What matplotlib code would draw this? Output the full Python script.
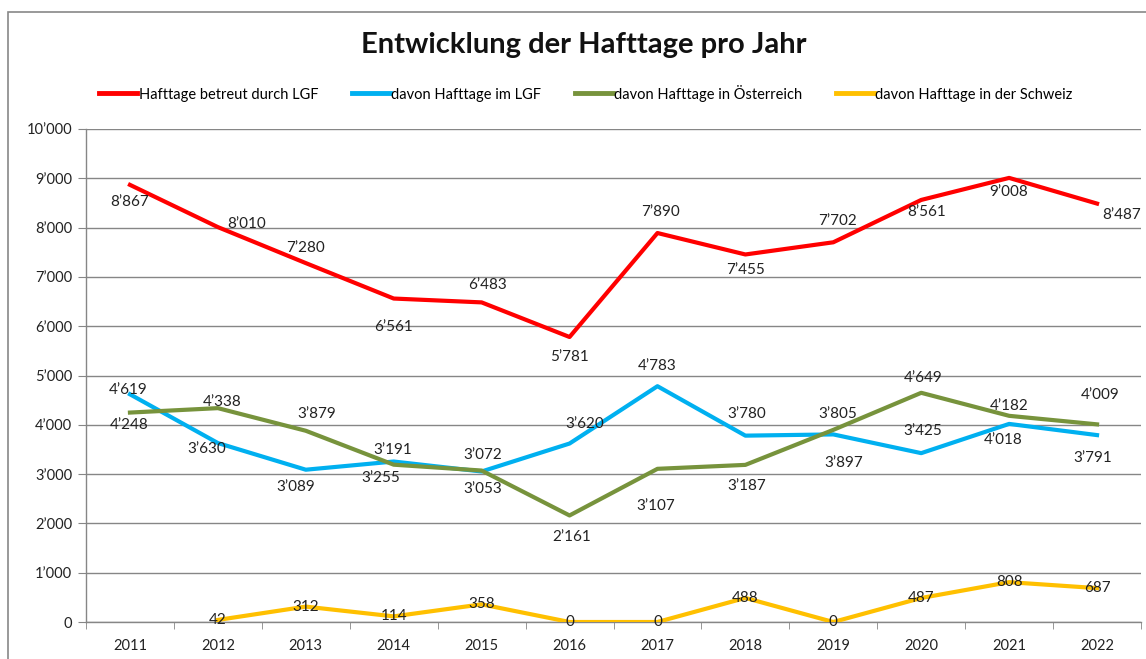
import matplotlib
matplotlib.use("Agg")
import matplotlib.pyplot as plt
from matplotlib.patches import Rectangle
from matplotlib.ticker import FuncFormatter
import numpy as np

plt.rcParams['font.family'] = ['Lato', 'DejaVu Sans']

# data
years = ["2011", "2012", "2013", "2014", "2015", "2016",
         "2017", "2018", "2019", "2020", "2021", "2022"]
betreut = [8867, 8010, 7280, 6561, 6483, 5781, 7890, 7455, 7702, 8561, 9008, 8487]
im_lgf = [4619, 3630, 3089, 3255, 3053, 3620, 4783, 3780, 3805, 3425, 4018, 3791]
oesterreich = [4248, 4338, 3879, 3191, 3072, 2161, 3107, 3187, 3897, 4649, 4182, 4009]
schweiz = [None, 42, 312, 114, 358, 0, 0, 488, 0, 487, 808, 687]

names = ["Hafttage betreut durch LGF", "davon Hafttage im LGF",
         "davon Hafttage in Österreich", "davon Hafttage in der Schweiz"]
colors = ["#FF0000", "#00B0F0", "#77933C", "#FFC000"]

# label offsets in pixels (dx right, dy down)
off_red = [(0, 17), (29, -3), (0, -15), (0, 28), (6, -17), (0, 20),
           (3, -21), (0, 16), (4, -21), (5, 12), (0, 14), (25, 11)]
off_blue = [(-2, -4), (-11, 6), (-10, 17), (-13, 16), (1, 18), (15, -20),
            (0, -20), (1, -22), (4, -20), (2, -22), (-6, 16), (-4, 23)]
off_green = [(-1, 12), (4, -6), (11, -17), (-1, -15), (1, -16), (2, 22),
             (-2, 37), (1, 21), (10, 33), (2, -15), (0, -10), (3, -29)]

W, H = 1146, 659
fig = plt.figure(figsize=(W / 100, H / 100), dpi=100)
ax = fig.add_axes([86 / W, 37 / H, (1141 - 86) / W, (622 - 129) / H])

x = np.arange(len(years))
series = [betreut, im_lgf, oesterreich, schweiz]
offsets = [off_red, off_blue, off_green, None]

def fmt(v):
    return f"{v:,.0f}".replace(",", "\u2019")

for vals, c, name, offs in zip(series, colors, names, offsets):
    y = np.array([np.nan if v is None else v for v in vals], dtype=float)
    ax.plot(x, y, color=c, lw=3, label=name, solid_joinstyle='round', zorder=3)
    for i, v in enumerate(vals):
        if v is None:
            continue
        dx, dy = (0, 0) if offs is None else offs[i]
        ax.annotate(fmt(v), (x[i], v), xytext=(dx, -dy), textcoords='offset pixels',
                    ha='center', va='center', fontsize=11, color='#222222', zorder=4)

ax.set_xlim(-0.5, len(years) - 0.5)
ax.set_ylim(0, 10000)
ax.set_yticks(np.arange(0, 10001, 1000))
ax.yaxis.set_major_formatter(FuncFormatter(lambda v, p: fmt(v)))
ax.set_xticks(x)
ax.set_xticklabels(years)
ax.set_xticks(np.arange(-0.5, len(years), 1), minor=True)
ax.tick_params(axis='x', which='major', length=0, pad=12, labelsize=10.5, colors='#222222')
ax.tick_params(axis='x', which='minor', length=5, color='#868686', direction='out')
ax.tick_params(axis='y', length=6, color='#868686', labelsize=10.5, labelcolor='#222222', pad=4)
ax.grid(axis='y', color='#868686', lw=1)
ax.set_axisbelow(True)
for s in ['top', 'right']:
    ax.spines[s].set_visible(False)
for s in ['left', 'bottom']:
    ax.spines[s].set_color('#868686')
    ax.spines[s].set_linewidth(1)

fig.text(584 / W, 1 - 45 / H, "Entwicklung der Hafttage pro Jahr", ha='center', va='center',
         fontsize=21, fontweight='bold', color='#111111')

leg = fig.legend(loc='center', bbox_to_anchor=(586 / W, 1 - 93 / H), ncol=4, frameon=False,
                 fontsize=10.5, handlelength=2.6, handletextpad=0.1, columnspacing=2.3)
for h in leg.get_lines():
    h.set_linewidth(3.5)

fig.patches.append(Rectangle((8 / W, -0.1), 1.2, 1 - 12 / H + 0.1, transform=fig.transFigure,
                             fill=False, edgecolor='#888888', lw=1.2))

fig.savefig("out.png", dpi=100)
